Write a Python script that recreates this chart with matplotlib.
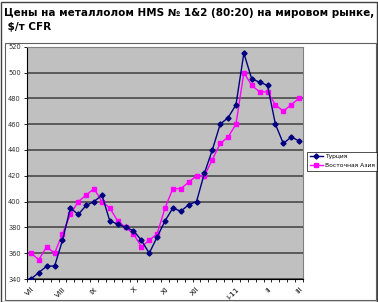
import matplotlib
matplotlib.use('Agg')
import matplotlib.pyplot as plt
from matplotlib.patches import Rectangle

# weekly prices, Jul 2010 - Mar 2011
TURKEY = [340, 345, 350, 350, 370, 395, 390, 397, 400, 405,
          385, 382.5, 380, 377.5, 370, 360, 372.5, 385, 395, 392.5,
          397.5, 400, 422, 440, 460, 465, 475, 515, 495, 492.5,
          490, 460, 445, 450, 447]
EAST_ASIA = [360, 355, 365, 360, 375, 390, 400, 405, 410, 400,
             395, 385, 380, 375, 365, 370, 375, 395, 410, 410,
             415, 420, 420, 432.5, 445, 450, 460, 500, 490, 485,
             485, 475, 470, 475, 480]
MONTH_POS = [0, 4, 8, 13, 17, 21, 26, 30, 34]
MONTH_LABELS = ['VII', 'VIII', 'IX', 'X', 'XI', 'XII', 'I-11', 'II', 'III']
Y_TICKS = [340, 360, 380, 400, 420, 440, 460, 480, 500, 520]

TITLE = 'Цены на металлолом HMS № 1&2 (80:20) на мировом рынке,\n $/т CFR'

fig = plt.figure(figsize=(3.78, 3.02), dpi=100)
fig.patch.set_facecolor('white')

# outer frame and chart-area frame
fig.patches.append(Rectangle((0.5 / 378, 0.5 / 302), 376 / 378, 300 / 302,
                             transform=fig.transFigure, fill=False,
                             edgecolor='#404040', lw=1.0))
fig.patches.append(Rectangle((5 / 378, 2 / 302), 371 / 378, 257 / 302,
                             transform=fig.transFigure, fill=False,
                             edgecolor='#606060', lw=0.8))

fig.text(4 / 378, 1 - 8 / 302, TITLE, ha='left', va='top',
         fontsize=7.5, fontweight='bold', linespacing=1.55, color='black')

ax = fig.add_axes([27 / 378, 1 - 279 / 302, 276 / 378, 232.3 / 302])
ax.set_facecolor('#c0c0c0')

x = list(range(len(TURKEY)))
ax.plot(x, TURKEY, color='#000080', lw=1.0, marker='D', markersize=2.6,
        label='Турция', zorder=3)
ax.plot(x, EAST_ASIA, color='#ff00ff', lw=1.0, marker='s', markersize=3.3,
        label='Восточная Азия', zorder=2)

ax.set_xlim(-0.5, len(TURKEY) - 0.5)
ax.set_ylim(340, 520)
ax.set_yticks(Y_TICKS)
ax.set_yticklabels([str(v) for v in Y_TICKS], fontsize=4.8, color='#303030')
ax.yaxis.grid(True, color='#404040', lw=1.1)
ax.set_axisbelow(True)

ax.set_xticks(MONTH_POS)
ax.set_xticklabels(MONTH_LABELS, rotation=45, ha='right', va='top',
                   fontsize=5.4, rotation_mode='anchor')
ax.set_xticks([k - 0.5 for k in range(len(TURKEY) + 1)], minor=True)
ax.tick_params(axis='x', which='major', length=0, pad=5)
ax.tick_params(axis='x', which='minor', length=2.5, width=0.6)
ax.tick_params(axis='y', length=2.5, width=0.6, pad=2)

for sp in ['top', 'right']:
    ax.spines[sp].set_color('#808080')
    ax.spines[sp].set_linewidth(0.8)
for sp in ['bottom', 'left']:
    ax.spines[sp].set_color('black')
    ax.spines[sp].set_linewidth(0.8)

leg = fig.legend(loc='upper left', bbox_to_anchor=(307 / 378, 1 - 151.5 / 302),
                 fontsize=4.3, frameon=True, fancybox=False, edgecolor='black',
                 handlelength=2.2, borderpad=0.45, labelspacing=0.6,
                 handletextpad=0.3, borderaxespad=0)
leg.get_frame().set_linewidth(0.6)

fig.savefig('out.png', dpi=100, facecolor='white')
